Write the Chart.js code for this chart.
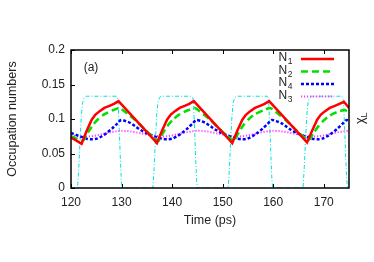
<!DOCTYPE html>
<html><head><meta charset="utf-8">
<script src="https://cdn.jsdelivr.net/npm/chart.js@4/dist/chart.umd.min.js"></script>
<style>html,body{margin:0;padding:0;background:#fff}#c{display:block}</style>
</head><body>
<canvas id="c" width="374" height="262"></canvas>
<script>
// ---- data ----
const xTicks = [120, 130, 140, 150, 160, 170];
const yTicks = [0, 0.05, 0.1, 0.15, 0.2];
const yTickLabels = ["0", "0.05", "0.1", "0.15", "0.2"];

const n1T = [120,121,122.1,123.1,124.1,124.8,125.6,126.6,127.6,128.5,129.4,130.4,131.4,132.4,133.4,134.4,135.4,136.4,137.0,138.0,139.0,139.7,140.5,141.5,142.5,143.4,144.3,145.3,146.3,147.3,148.3,149.3,150.3,151.3,151.9,152.9,153.9,154.6,155.4,156.4,157.4,158.3,159.2,160.2,161.2,162.2,163.2,164.2,165.2,166.2,166.7,167.7,168.7,169.4,170.2,171.2,172.2,173.1,174.0,175];
const n1V = [0.073,0.069,0.064,0.083,0.099,0.106,0.111,0.116,0.119,0.122,0.126,0.118,0.110,0.102,0.094,0.086,0.078,0.070,0.065,0.083,0.099,0.106,0.111,0.116,0.119,0.122,0.126,0.118,0.110,0.102,0.094,0.086,0.078,0.070,0.065,0.083,0.099,0.106,0.111,0.116,0.119,0.122,0.126,0.118,0.110,0.102,0.094,0.086,0.078,0.070,0.066,0.083,0.099,0.106,0.111,0.116,0.119,0.122,0.125,0.116];

const n2T = [120,121,122.4,123.4,124.4,125.4,126.4,127.4,128.4,129.6,130.6,131.6,132.6,133.6,134.6,135.6,136.6,137.3,138.3,139.3,140.3,141.3,142.3,143.3,144.5,145.5,146.5,147.5,148.5,149.5,150.5,151.5,152.2,153.2,154.2,155.2,156.2,157.2,158.2,159.4,160.4,161.4,162.4,163.4,164.4,165.4,166.4,167.0,168.0,169.0,170.0,171.0,172.0,173.0,174.2,175];
const n2V = [0.075,0.072,0.069,0.081,0.092,0.100,0.106,0.110,0.113,0.116,0.111,0.105,0.099,0.092,0.085,0.078,0.072,0.068,0.081,0.092,0.100,0.106,0.110,0.113,0.116,0.111,0.105,0.099,0.092,0.085,0.078,0.072,0.068,0.081,0.092,0.100,0.106,0.110,0.113,0.116,0.111,0.105,0.099,0.092,0.085,0.078,0.072,0.069,0.080,0.090,0.098,0.104,0.108,0.111,0.113,0.109];

const n4T = [120,121,122.1,123.1,124.1,125.1,126.1,127.1,128.1,129.1,129.9,130.8,131.8,132.8,133.8,134.8,135.8,136.8,138.0,139.0,140.0,141.0,142.0,143.0,144.0,144.8,145.7,146.7,147.7,148.7,149.7,150.7,151.7,152.9,153.9,154.9,155.9,156.9,157.9,158.9,159.7,160.6,161.6,162.6,163.6,164.6,165.6,166.6,167.7,168.7,169.7,170.7,171.7,172.7,173.7,174.5,175];
const n4V = [0.080,0.077,0.074,0.0715,0.0705,0.0715,0.075,0.080,0.086,0.093,0.0985,0.097,0.094,0.089,0.084,0.080,0.077,0.074,0.0715,0.0705,0.0715,0.075,0.080,0.086,0.093,0.0985,0.097,0.094,0.089,0.084,0.080,0.077,0.074,0.0715,0.0705,0.0715,0.075,0.080,0.086,0.093,0.0985,0.097,0.094,0.089,0.084,0.080,0.077,0.074,0.0715,0.0705,0.0715,0.075,0.080,0.086,0.093,0.0985,0.097];

const n3T = [120,121,122,123,124,125,126,127,128,129,130,131,132,133,134,135,136,137,138,139,140,141,142,143,144,145,146,147,148,149,150,151,152,153,154,155,156,157,158,159,160,161,162,163,164,165,166,167,168,169,170,171,172,173,174,175];
const n3V = [0.077,0.0755,0.0748,0.0745,0.075,0.0762,0.0778,0.0795,0.081,0.0822,0.0828,0.0826,0.0818,0.0805,0.079,0.0775,0.0762,0.0752,0.0748,0.075,0.0762,0.0778,0.0795,0.081,0.0822,0.0828,0.0826,0.0818,0.0805,0.079,0.0775,0.0762,0.0752,0.0748,0.075,0.0762,0.0778,0.0795,0.081,0.0822,0.0828,0.0826,0.0818,0.0805,0.079,0.0775,0.0762,0.0752,0.0748,0.075,0.0762,0.0778,0.0795,0.081,0.0822,0.0828];

const chiT = [120,121.3,121.55,121.8,122.05,122.3,122.6,123.0,129.0,129.2,129.35,129.55,129.75,129.95,130.1,136.2,136.45,136.7,136.95,137.2,137.5,137.9,143.9,144.1,144.25,144.45,144.65,144.85,145.0,151.1,151.35,151.6,151.85,152.1,152.4,152.8,158.8,159.0,159.15,159.35,159.55,159.75,159.9,165.9,166.15,166.4,166.65,166.9,167.2,167.6,173.6,173.8,173.95,174.15,174.35,174.55,174.7,175];
const chiV = [0,0,0.03,0.07,0.105,0.124,0.131,0.133,0.133,0.131,0.12,0.085,0.045,0.012,0,0,0.03,0.07,0.105,0.124,0.131,0.133,0.133,0.131,0.12,0.085,0.045,0.012,0,0,0.03,0.07,0.105,0.124,0.131,0.133,0.133,0.131,0.12,0.085,0.045,0.012,0,0,0.03,0.07,0.105,0.124,0.131,0.133,0.133,0.131,0.12,0.085,0.045,0.012,0,0];

const seriesNames = ["N1", "N2", "N4", "N3"];
const seriesSubs = ["1", "2", "4", "3"];

function pts(t, v) { return t.map((x, i) => ({x: x, y: v[i]})); }

const FONT = '"Liberation Sans", Arial, sans-serif';

const styles = [
  {color: '#ff0000', width: 2.5, dash: []},
  {color: '#00e000', width: 2.5, dash: [7, 4]},
  {color: '#0000ff', width: 2.5, dash: [3, 2]},
  {color: '#ff40ff', width: 2, dash: [1.2, 1.8]}
];

const decor = {
  id: 'decor',
  afterDatasetsDraw(chart) {
    const ctx = chart.ctx, a = chart.chartArea;
    const xs = chart.scales.x, ys = chart.scales.y;
    ctx.save();
    ctx.strokeStyle = '#000';
    ctx.lineWidth = 1;
    ctx.setLineDash([]);
    ctx.beginPath();
    xTicks.forEach(v => {
      const px = Math.round(xs.getPixelForValue(v)) + 0.5;
      ctx.moveTo(px, a.bottom); ctx.lineTo(px, a.bottom - 4);
      ctx.moveTo(px, a.top); ctx.lineTo(px, a.top + 4);
    });
    yTicks.forEach(v => {
      const py = Math.round(ys.getPixelForValue(v)) + 0.5;
      ctx.moveTo(a.left, py); ctx.lineTo(a.left + 4, py);
    });
    ctx.stroke();
    ctx.lineWidth = 1.5;
    ctx.strokeRect(a.left, a.top, a.right - a.left, a.bottom - a.top);

    ctx.fillStyle = '#222';
    ctx.font = '12.5px ' + FONT;
    ctx.textAlign = 'center'; ctx.textBaseline = 'middle';
    ctx.fillText('Time (ps)', (a.left + a.right) / 2, 221);
    ctx.save();
    ctx.translate(12.5, (a.top + a.bottom) / 2);
    ctx.rotate(-Math.PI / 2);
    ctx.fillText('Occupation numbers', 0, 0);
    ctx.restore();
    ctx.save();
    ctx.translate(361, 124);
    ctx.rotate(-Math.PI / 2);
    ctx.textAlign = 'left';
    ctx.font = '12.5px ' + FONT;
    ctx.fillText('\u03C7', 0, 0);
    const w = ctx.measureText('\u03C7').width;
    ctx.font = '9px ' + FONT;
    ctx.fillText('L', w, 4);
    ctx.restore();
    ctx.font = '12px ' + FONT;
    ctx.textAlign = 'center';
    ctx.fillText('(a)', 91, 68);
    const rows = [59, 71.5, 84, 96.5];
    for (let i = 0; i < 4; i++) {
      const y = rows[i];
      ctx.font = '12px ' + FONT;
      ctx.textAlign = 'left'; ctx.textBaseline = 'middle';
      ctx.fillText('N', 278.5, y - 1);
      const wn = ctx.measureText('N').width;
      ctx.font = '8.5px ' + FONT;
      ctx.fillText(seriesSubs[i], 278.5 + wn + 0.5, y + 3);
      const s = styles[i];
      ctx.strokeStyle = s.color; ctx.lineWidth = s.width; ctx.setLineDash(s.dash);
      ctx.beginPath(); ctx.moveTo(301, y); ctx.lineTo(334, y); ctx.stroke();
    }
    ctx.restore();
  }
};

new Chart(document.getElementById('c'), {
  type: 'line',
  data: {
    datasets: [
      {label: 'N1', data: pts(n1T, n1V), borderColor: styles[0].color, borderWidth: styles[0].width, borderDash: styles[0].dash, tension: 0, order: 1},
      {label: 'N2', data: pts(n2T, n2V), borderColor: styles[1].color, borderWidth: styles[1].width, borderDash: styles[1].dash, tension: 0.2, order: 2},
      {label: 'N4', data: pts(n4T, n4V), borderColor: styles[2].color, borderWidth: styles[2].width, borderDash: styles[2].dash, tension: 0.3, order: 3},
      {label: 'N3', data: pts(n3T, n3V), borderColor: styles[3].color, borderWidth: styles[3].width, borderDash: styles[3].dash, tension: 0.3, order: 4},
      {label: 'chiL', data: pts(chiT, chiV), borderColor: 'rgb(0,225,225)', borderWidth: 1, borderDash: [4, 2, 1, 2], tension: 0, order: 5}
    ]
  },
  options: {
    responsive: false,
    animation: false,
    elements: {point: {radius: 0}},
    layout: {padding: {top: 50, right: 25, left: 0, bottom: 0}},
    plugins: {legend: {display: false}, tooltip: {enabled: false}},
    scales: {
      x: {
        type: 'linear', min: 120, max: 175,
        grid: {display: false, drawTicks: false},
        border: {display: false},
        afterFit(s) { s.height = 74; },
        afterBuildTicks(s) { s.ticks = xTicks.map(v => ({value: v})); },
        ticks: {padding: 7, color: '#222', font: {family: FONT, size: 12}, maxRotation: 0, autoSkip: false,
                callback: v => String(v)}
      },
      y: {
        type: 'linear', min: 0, max: 0.2,
        grid: {display: false, drawTicks: false},
        border: {display: false},
        afterFit(s) { s.width = 71; },
        afterBuildTicks(s) { s.ticks = yTicks.map(v => ({value: v})); },
        ticks: {padding: 6, color: '#222', font: {family: FONT, size: 12}, autoSkip: false,
                callback: (v) => { const i = yTicks.findIndex(t => Math.abs(t - v) < 1e-9); return i >= 0 ? yTickLabels[i] : ''; }}
      }
    }
  },
  plugins: [decor]
});
</script>
</body></html>
